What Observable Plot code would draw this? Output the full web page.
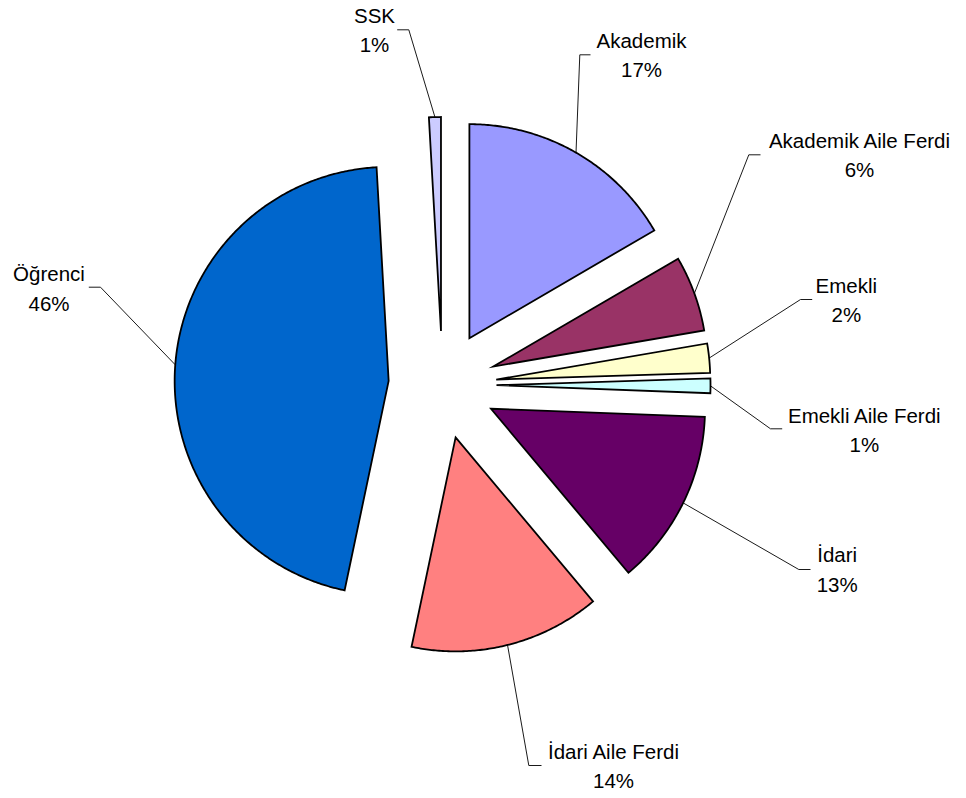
<!DOCTYPE html>
<html><head><meta charset="utf-8">
<script src="https://cdn.jsdelivr.net/npm/d3@7"></script>
<script src="https://cdn.jsdelivr.net/npm/@observablehq/plot@0.6"></script>
<style>body{margin:0;background:#fff;}</style>
</head><body><div id="chart"></div>
<script>
// ---- data ----
const categories = ["Akademik", "Akademik Aile Ferdi", "Emekli", "Emekli Aile Ferdi", "İdari", "İdari Aile Ferdi", "Öğrenci", "SSK"];
const values = [16.6, 5.7, 2.2, 1.1, 13.3, 14.4, 45.8, 0.9];
const colors = ["#9999FF", "#993366", "#FFFFCC", "#CCFFFF", "#660066", "#FF8080", "#0066CC", "#CCCCFF"];

// ---- layout (pixels) ----
const W = 966, H = 798;
const pie = {cx: 442, cy: 384.5, r: 214, explode: 54};
const labelLayout = [
  {elbow: [579.3, 54.3], end: [590, 54.3], text: [641, 52.6]},
  {elbow: [748.3, 154.3], end: [760, 154.3], text: [859, 152.5]},
  {elbow: [800, 299], end: [811.7, 299], text: [845.8, 297.5]},
  {elbow: [770, 428.3], end: [781.7, 428.3], text: [863.8, 427.5]},
  {elbow: [798.3, 569], end: [810, 569], text: [836.7, 567.1]},
  {elbow: [528.3, 765], end: [541, 765], text: [613, 763.4]},
  {elbow: [100, 286.7], end: [88.3, 286.7], text: [48.5, 286]},
  {elbow: [408.3, 29.3], end: [396.7, 29.3], text: [374, 27.6]}
];

// ---- geometry from data ----
const total = d3.sum(values);
let acc = 0;
const slices = categories.map((name, i) => {
  const a0 = acc / total * 2 * Math.PI; acc += values[i];
  const a1 = acc / total * 2 * Math.PI;
  const mid = (a0 + a1) / 2;
  const ox = pie.cx + pie.explode * Math.sin(mid);
  const oy = pie.cy - pie.explode * Math.cos(mid);
  return {name, value: values[i], a0, a1, mid, ox, oy};
});
const outline = slices.flatMap(s => {
  const pts = [{name: s.name, x: s.ox, y: s.oy}];
  const n = Math.max(2, Math.ceil((s.a1 - s.a0) / (Math.PI / 360)));
  for (let k = 0; k <= n; k++) {
    const a = s.a0 + (s.a1 - s.a0) * k / n;
    pts.push({name: s.name, x: s.ox + pie.r * Math.sin(a), y: s.oy - pie.r * Math.cos(a)});
  }
  return pts;
});
const leaders = slices.flatMap((s, i) => {
  const L = labelLayout[i];
  return [
    {name: s.name, x: s.ox + pie.r * Math.sin(s.mid), y: s.oy - pie.r * Math.cos(s.mid)},
    {name: s.name, x: L.elbow[0], y: L.elbow[1]},
    {name: s.name, x: L.end[0], y: L.end[1]}
  ];
});
const labels = slices.map((s, i) => ({
  x: labelLayout[i].text[0], y: labelLayout[i].text[1],
  text: s.name + "\n" + Math.round(s.value / total * 100) + "%"
}));

const chart = Plot.plot({
  width: W, height: H, margin: 0,
  x: {domain: [0, W], range: [0, W], axis: null},
  y: {domain: [0, H], range: [0, H], axis: null},
  color: {domain: categories, range: colors},
  style: {background: "white", fontFamily: "'Liberation Sans', Arial, sans-serif", overflow: "visible"},
  marks: [
    Plot.line(leaders, {x: "x", y: "y", z: "name", stroke: "#1a1a1a", strokeWidth: 1, strokeLinejoin: "miter", strokeLinecap: "butt"}),
    Plot.line(outline, {x: "x", y: "y", z: "name", fill: "name", stroke: "black", strokeWidth: 1.8, curve: "linear-closed", strokeLinejoin: "miter", strokeMiterlimit: 10}),
    Plot.text(labels, {x: "x", y: "y", text: "text", fontSize: 20.5, lineHeight: 1.44, fill: "black", fontFamily: "'Liberation Sans', Arial, sans-serif"})
  ]
});
document.getElementById("chart").append(chart);
</script>
</body></html>
